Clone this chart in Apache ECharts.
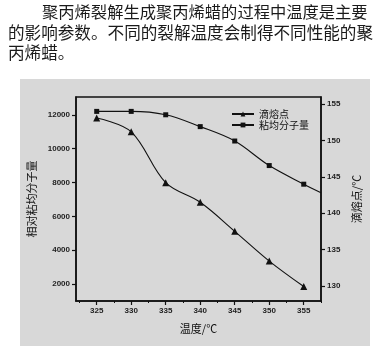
<!DOCTYPE html>
<html>
<head>
<meta charset="utf-8">
<script src="https://cdn.jsdelivr.net/npm/echarts@6/dist/echarts.min.js"></script>
<style>
  html, body { margin: 0; padding: 0; background: #ffffff; }
  #chart { width: 391px; height: 357px; }
</style>
</head>
<body>
<div id="chart"></div>
<script>
// Cracking temperature (°C)
var temperatures = [325, 330, 335, 340, 345, 350, 355];
// Relative viscosity-average molecular weight
var molecularWeight = [12200, 12200, 12000, 11300, 10450, 9000, 7900];
// Trailing end of the molecular-weight curve at the right edge of the plot
var molecularWeightTail = [[357.5, 7400]];
// Drop melting point (°C)
var dropPoint = [153.1, 151.2, 144.2, 141.5, 137.5, 133.4, 129.9];

var xTicks = [325, 330, 335, 340, 345, 350, 355];
var xMinorTicks = [322.5, 327.5, 332.5, 337.5, 342.5, 347.5, 352.5, 357.5];
var leftTicks = [2000, 4000, 6000, 8000, 10000, 12000];
var rightTicks = [130, 135, 140, 145, 150, 155];

var paragraph = [
  '聚丙烯裂解生成聚丙烯蜡的过程中温度是主要',
  '的影响参数。不同的裂解温度会制得不同性能的聚',
  '丙烯蜡。'
];

var cjkFont = '"Noto Sans CJK SC", sans-serif';
var tickFont = { fontSize: 8, fontWeight: 'bold', color: '#222', fontFamily: 'Liberation Sans, Arial' };
var plain = function (v) { return String(v); };

var chart = echarts.init(document.getElementById('chart'), null, { renderer: 'canvas' });

function pairs(xs, ys) {
  return xs.map(function (x, i) { return [x, ys[i]]; });
}

chart.setOption({
  backgroundColor: '#ffffff',
  animation: false,
  graphic: [
    { type: 'rect', z: -10, shape: { x: 20, y: 79, width: 350, height: 267 },
      style: { fill: '#d8d8d8' } },
    { type: 'text', left: 42, top: 4, style: { text: paragraph[0], font: '16.3px ' + cjkFont, fill: '#1a1a1a' } },
    { type: 'text', left: 8, top: 24, style: { text: paragraph[1], font: '16.6px ' + cjkFont, fill: '#1a1a1a' } },
    { type: 'text', left: 8, top: 44, style: { text: paragraph[2], font: '16.6px ' + cjkFont, fill: '#1a1a1a' } }
  ],
  grid: {
    left: 76, top: 97, right: 70, bottom: 56,
    show: true, borderColor: '#111', borderWidth: 1.5, backgroundColor: 'transparent'
  },
  legend: {
    orient: 'vertical', left: 226, top: 104, itemGap: 1,
    itemWidth: 22, itemHeight: 6,
    textStyle: { fontSize: 10, color: '#111', fontFamily: cjkFont },
    data: ['滴熔点', '粘均分子量']
  },
  xAxis: [
    {
      type: 'value', min: 322, max: 357.5,
      name: '温度/℃', nameLocation: 'middle', nameGap: 22,
      nameTextStyle: { fontSize: 11, color: '#111', fontFamily: cjkFont },
      axisLine: { lineStyle: { color: '#111', width: 1.5 } },
      axisTick: { show: true, length: 4, customValues: xTicks, lineStyle: { color: '#111', width: 1.2 } },
      axisLabel: Object.assign({ customValues: xTicks, margin: 6, formatter: plain }, tickFont),
      splitLine: { show: false }
    },
    {
      type: 'value', min: 322, max: 357.5, position: 'bottom',
      axisLine: { show: false },
      axisTick: { show: true, length: 2, customValues: xMinorTicks, lineStyle: { color: '#111', width: 1 } },
      axisLabel: { show: false },
      splitLine: { show: false }
    }
  ],
  yAxis: [
    {
      type: 'value', min: 1000, max: 13050, position: 'left',
      name: '相对粘均分子量', nameLocation: 'middle', nameGap: 30, nameRotate: 90,
      nameTextStyle: { fontSize: 11, color: '#111', fontFamily: cjkFont },
      axisLine: { show: true, lineStyle: { color: '#111', width: 1.5 } },
      axisTick: { show: true, length: 4, customValues: leftTicks, lineStyle: { color: '#111', width: 1.2 } },
      axisLabel: Object.assign({ customValues: leftTicks, margin: 6, formatter: plain }, tickFont),
      splitLine: { show: false }
    },
    {
      type: 'value', min: 127.9, max: 156, position: 'right',
      name: '滴熔点/℃', nameLocation: 'middle', nameGap: 24, nameRotate: 90,
      nameTextStyle: { fontSize: 11, color: '#111', fontFamily: cjkFont },
      axisLine: { show: true, lineStyle: { color: '#111', width: 1.5 } },
      axisTick: { show: true, length: 4, customValues: rightTicks, lineStyle: { color: '#111', width: 1.2 } },
      axisLabel: Object.assign({ customValues: rightTicks, margin: 6, formatter: plain }, tickFont),
      splitLine: { show: false }
    }
  ],
  series: [
    {
      name: '滴熔点', type: 'line', xAxisIndex: 0, yAxisIndex: 1,
      data: pairs(temperatures, dropPoint),
      smooth: 0.35, symbol: 'triangle', symbolSize: 7,
      itemStyle: { color: '#111' },
      lineStyle: { color: '#111', width: 1.1 }
    },
    {
      name: '粘均分子量', type: 'line', xAxisIndex: 0, yAxisIndex: 0,
      data: pairs(temperatures, molecularWeight).concat(
        molecularWeightTail.map(function (p) { return { value: p, symbol: 'none' }; })
      ),
      smooth: 0.35, symbol: 'rect', symbolSize: 5,
      itemStyle: { color: '#111' },
      lineStyle: { color: '#111', width: 1.1 }
    }
  ]
});
</script>
</body>
</html>
